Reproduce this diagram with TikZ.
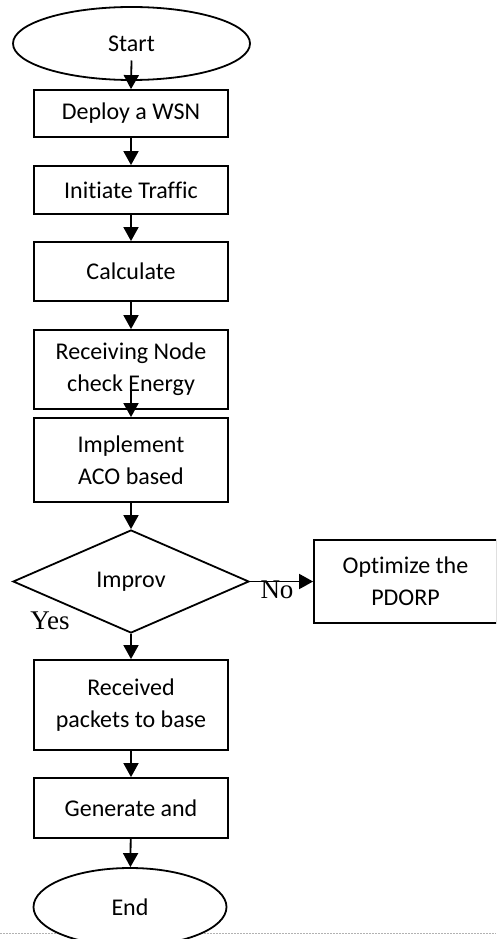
\documentclass[tikz,border=0pt]{standalone}
\usepackage{fontspec}
\setmainfont[Ligatures=NoCommon]{Carlito}
\newfontfamily\tnr{Liberation Serif}
\usetikzlibrary{positioning,shapes.geometric,arrows.meta}

\begin{document}
\begin{tikzpicture}[x=1pt,y=-1pt,
		line width=1.8pt,
		box/.style={draw,rectangle,inner sep=0pt,minimum width=194pt,align=center,fill=white,font=\fontsize{24}{32}\selectfont},
		term/.style={draw,ellipse,inner sep=0pt,fill=white,font=\fontsize{24}{32}\selectfont},
		decide/.style={draw,diamond,inner sep=0pt,minimum width=236pt,minimum height=103pt,font=\fontsize{24}{32}\selectfont},
		arr/.style={-{Triangle[width=15pt,length=14pt]}},
		lab/.style={font=\tnr\fontsize{27}{30}\selectfont}]
		\useasboundingbox (0,0) rectangle (496,939);
		\clip (0,0) rectangle (496,939);
		\fill[white] (0,0) rectangle (496,939);
		\draw[gray!60,line width=1pt,dash pattern=on 2pt off 1pt] (0,933) -- (496,933);
		\node[term,minimum width=237pt,minimum height=73pt] (start) at (131.5,43.5) {Start};
		\node[box,minimum height=47pt] (deploy) at (131,113.5) {Deploy a WSN};
		\node[box,minimum height=48pt] (init) at (131,190) {Initiate Traffic};
		\node[box,minimum height=59pt] (calc) at (131,271.5) {Calculate};
		\node[box,minimum height=79pt] (recv) at (131,369.5) {Receiving Node\\check Energy};
		\node[box,minimum height=84pt] (impl) at (131,460) {Implement\\ACO based};
		\node[decide] (improv) at (131,581.5) {Improv};
		\node[box,minimum width=183pt,minimum height=83pt] (opt) at (405.5,581.5) {Optimize the\\PDORP};
		\node[box,minimum height=90pt] (rcvd) at (131,705) {Received\\packets to base};
		\node[box,minimum height=60pt] (gen) at (131,808) {Generate and};
		\node[term,minimum width=193pt,minimum height=78pt] (end) at (130,907) {End};
		\node[lab] (no) at (277,590) {No};
		\node[lab] (yes) at (50,621) {Yes};
		\draw[arr] ([yshift=-17pt]start.center) -- (deploy.north);
		\draw[arr] (deploy) -- (init);
		\draw[arr] (init) -- (calc);
		\draw[arr] (calc) -- (recv);
		\draw[arr] ([yshift=19pt]recv.south) -- (impl.north);
		\draw[arr] (impl) -- (improv);
		\draw[arr] (improv.east) -- (opt.west);
		\draw[arr] (improv.south) -- (rcvd.north);
		\draw[arr] (rcvd) -- (gen);
		\draw[arr] (gen) -- (end);
	\end{tikzpicture}
\end{document}
